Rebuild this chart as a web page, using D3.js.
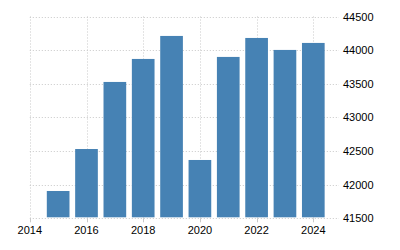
<!DOCTYPE html>
<html><head><meta charset="utf-8">
<script src="https://cdn.jsdelivr.net/npm/d3@7"></script>
<style>html,body{margin:0;padding:0;background:#fff;}svg{display:block;}</style>
</head><body>
<script>
const years = [2015,2016,2017,2018,2019,2020,2021,2022,2023,2024];
const values = [41906,42530,43527,43869,44211,42367,43899,44181,44003,44107];
const xTicks = [2014,2016,2018,2020,2022,2024];
const yTicks = [41500,42000,42500,43000,43500,44000,44500];

const W = 400, H = 250;
const pLeft = 29.8, pRight = 339, pTop = 16.5, pBottom = 218.3;
const svg = d3.select("body").append("svg").attr("width", W).attr("height", H);

const x = d3.scaleLinear().domain([2014, 2024]).range([pLeft, 313.3]);
const y = d3.scaleLinear().domain([41500, 44500]).range([pBottom, pTop]);
const barW = (x(2015) - x(2014)) * 0.8;

const grid = svg.append("g").attr("stroke", "#c8c8c8").attr("stroke-width", 1).attr("stroke-dasharray", "1,2");
grid.selectAll("line.h").data(yTicks).join("line").attr("class","h")
  .attr("x1", pLeft).attr("x2", pRight)
  .attr("y1", d => Math.round(y(d)) + 0.5).attr("y2", d => Math.round(y(d)) + 0.5);
grid.selectAll("line.v").data(xTicks).join("line").attr("class","v")
  .attr("y1", pTop).attr("y2", pBottom)
  .attr("x1", d => Math.round(x(d)) + 0.5).attr("x2", d => Math.round(x(d)) + 0.5);

svg.append("g").selectAll("rect").data(years).join("rect")
  .attr("x", (d) => x(d) - barW / 2)
  .attr("width", barW)
  .attr("y", (d, i) => y(values[i]))
  .attr("height", (d, i) => y(41500) - y(values[i]) - 1)
  .attr("fill", "#4682b4");

svg.append("g").attr("stroke", "#c8c8c8").selectAll("line").data(xTicks).join("line")
  .attr("x1", d => Math.round(x(d)) + 0.5).attr("x2", d => Math.round(x(d)) + 0.5)
  .attr("y1", pBottom).attr("y2", pBottom + 4);

const font = "'Liberation Sans', Arial, sans-serif";
svg.append("g").selectAll("text").data(xTicks).join("text")
  .attr("x", d => x(d)).attr("y", 233.5)
  .attr("text-anchor", "middle")
  .attr("font-family", font).attr("font-size", 11).attr("fill", "#000")
  .text(d => d);

svg.append("g").selectAll("text").data(yTicks).join("text")
  .attr("x", 343).attr("y", d => y(d) + 4)
  .attr("text-anchor", "start")
  .attr("font-family", font).attr("font-size", 11).attr("fill", "#000")
  .text(d => d);
</script>
</body></html>
